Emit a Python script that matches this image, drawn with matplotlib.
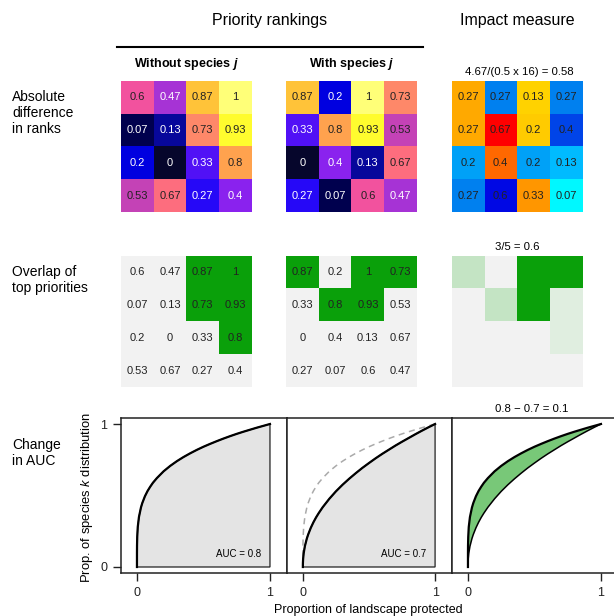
import numpy as np
import matplotlib
matplotlib.use("Agg")
import matplotlib.pyplot as plt
from matplotlib.colors import LinearSegmentedColormap, ListedColormap

plt.rcParams["font.family"] = ["Liberation Sans", "DejaVu Sans"]
plt.rcParams["mathtext.fontset"] = "custom"
plt.rcParams["mathtext.rm"] = "Liberation Sans"
plt.rcParams["mathtext.it"] = "Liberation Sans:italic"
plt.rcParams["mathtext.bf"] = "Liberation Sans:bold"
plt.rcParams["mathtext.bfit"] = "Liberation Sans:bold:italic"

# priority ranks (fraction of 15) in a 4x4 landscape
ranks_without = np.array([[0.6, 0.47, 0.87, 1],
                          [0.07, 0.13, 0.73, 0.93],
                          [0.2, 0, 0.33, 0.8],
                          [0.53, 0.67, 0.27, 0.4]])
ranks_with = np.array([[0.87, 0.2, 1, 0.73],
                       [0.33, 0.8, 0.93, 0.53],
                       [0, 0.4, 0.13, 0.67],
                       [0.27, 0.07, 0.6, 0.47]])
# signed rank change (with - without), labels show the absolute value
rank_change = np.array([[0.27, -0.27, 0.13, -0.27],
                        [0.27, 0.67, 0.2, -0.4],
                        [-0.2, 0.4, -0.2, -0.13],
                        [-0.27, -0.6, 0.33, 0.07]])
top_cut = 0.73  # top 5 of 16 cells

# performance curves
x_prop = [0, 0.0001, 0.0005, 0.002, 0.006, 0.015, 0.03, 0.04, 0.06, 0.08,
          0.1, 0.12, 0.15, 0.2, 0.25, 0.3, 0.35, 0.4, 0.45, 0.5, 0.55, 0.6,
          0.65, 0.7, 0.75, 0.8, 0.85, 0.9, 0.95, 1.0]
y_without = [0, 0.1, 0.15, 0.21, 0.28, 0.35, 0.416, 0.447, 0.495, 0.532,
             0.562, 0.589, 0.622, 0.669, 0.707, 0.74, 0.769, 0.795, 0.819,
             0.841, 0.861, 0.88, 0.898, 0.915, 0.931, 0.946, 0.96, 0.974,
             0.987, 1.0]
y_with = [0, 0.015, 0.03, 0.057, 0.095, 0.145, 0.199, 0.227, 0.274, 0.313,
          0.347, 0.377, 0.418, 0.477, 0.529, 0.575, 0.617, 0.656, 0.693,
          0.727, 0.76, 0.791, 0.82, 0.849, 0.876, 0.902, 0.928, 0.953,
          0.977, 1.0]
auc_without = 0.8
auc_with = 0.7

W, H = 614, 616
fig = plt.figure(figsize=(W / 100, H / 100), dpi=100)


def px_axes(x0, y0, x1, y1):
    return fig.add_axes([x0 / W, 1 - y1 / H, (x1 - x0) / W, (y1 - y0) / H])


def ftext(x, y, s, **kw):
    fig.text(x / W, 1 - y / H, s, **kw)


rank_cmap = LinearSegmentedColormap.from_list("rank", [
    "#06062c", "#00004e", "#0808a0", "#0000e0", "#2408f8", "#5412f6",
    "#8a22ee", "#a432d8", "#c644b4", "#f2529e", "#fd6c80", "#ff8a68",
    "#ffa24e", "#ffc03a", "#fffc2e", "#ffff78"])
change_cmap = LinearSegmentedColormap.from_list("change", [
    (0.0, "#0000c0"), (0.05, "#0008e4"), (0.2, "#0044e8"), (0.3, "#0082f0"),
    (0.35, "#00a2f8"), (0.4, "#00baff"), (0.57, "#00ffff"), (0.58, "#ffd400"),
    (0.65, "#ffcc00"), (0.7, "#ffaa00"), (0.75, "#ff9600"), (0.8, "#ff6800"),
    (1.0, "#ff0000")])
overlap_cmap = ListedColormap(["#f2f2f2", "#0aa00a"])
impact_cmap = ListedColormap(["#f2f2f2", "#e0eee0", "#c4e4c4", "#0aa00a"])

cols = [(121, 252), (286, 417), (451, 583)]
row1 = (81, 212)
row2 = (256, 387)


def label_cells(ax, vals, colors):
    for i in range(4):
        for j in range(4):
            ax.text(j, i, f"{vals[i, j]:g}", ha="center", va="center",
                    fontsize=8, color=colors[i][j])


# row 1: rank maps and absolute difference
for (x0, x1), r in zip(cols[:2], [ranks_without, ranks_with]):
    ax = px_axes(x0, row1[0], x1, row1[1])
    ax.imshow(r, cmap=rank_cmap, vmin=0, vmax=1, interpolation="nearest")
    ax.axis("off")
    tc = [["white" if v < 0.5 else "#222222" for v in row] for row in r]
    label_cells(ax, r, tc)

ax = px_axes(cols[2][0], row1[0], cols[2][1], row1[1])
ax.imshow(rank_change, cmap=change_cmap, vmin=-0.67, vmax=0.67,
          interpolation="nearest")
ax.axis("off")
label_cells(ax, np.abs(rank_change), [["#222222"] * 4] * 4)

# row 2: overlap of top priorities
for (x0, x1), r in zip(cols[:2], [ranks_without, ranks_with]):
    ax = px_axes(x0, row2[0], x1, row2[1])
    ax.imshow((r >= top_cut).astype(int), cmap=overlap_cmap, vmin=0, vmax=1,
              interpolation="nearest")
    ax.axis("off")
    label_cells(ax, r, [["#222222"] * 4] * 4)

top_wo = ranks_without >= top_cut
top_w = ranks_with >= top_cut
overlap_cls = np.where(top_wo & top_w, 3,
                       np.where(top_w, 2, np.where(top_wo, 1, 0)))
ax = px_axes(cols[2][0], row2[0], cols[2][1], row2[1])
ax.imshow(overlap_cls, cmap=impact_cmap, vmin=0, vmax=3,
          interpolation="nearest")
ax.axis("off")

# row 3: performance curves
bot = (418, 573)
panels = [(121, 287), (287, 452), (452, 618)]
axs = []
for x0, x1 in panels:
    ax = px_axes(x0, bot[0], x1, bot[1])
    ax.set_xlim(-0.12, 1.128)
    ax.set_ylim(-0.042, 1.042)
    for s in ax.spines.values():
        s.set_linewidth(1.1)
        s.set_color("#222222")
    ax.set_xticks([0, 1])
    ax.set_xticklabels(["0", "1"])
    ax.set_yticks([])
    ax.tick_params(direction="out", length=6, width=1, labelsize=9,
                   pad=4, colors="#222222")
    axs.append(ax)

axs[0].set_yticks([0, 1])
axs[0].set_yticklabels(["0", "1"])

poly_x = list(x_prop) + [1, 0]
axs[0].fill(poly_x, list(y_without) + [0, 0], facecolor="#e4e4e4",
            edgecolor="#222222", lw=0.9)
axs[0].plot(x_prop, y_without, color="black", lw=1.6)
axs[0].text(0.93, 0.09, f"AUC = {auc_without:g}", ha="right", va="center",
            fontsize=7)

axs[1].fill(poly_x, list(y_with) + [0, 0], facecolor="#e4e4e4",
            edgecolor="#222222", lw=0.9)
axs[1].plot(x_prop, y_without, color="#aaaaaa", lw=1.1, ls=(0, (4, 3)))
axs[1].plot(x_prop, y_with, color="black", lw=1.6)
axs[1].text(0.93, 0.09, f"AUC = {auc_with:g}", ha="right", va="center",
            fontsize=7)

axs[2].fill(list(x_prop) + list(x_prop[::-1]),
            list(y_without) + list(y_with[::-1]),
            facecolor="#78c878", edgecolor="none")
axs[2].plot(x_prop, y_without, color="black", lw=1.6)
axs[2].plot(x_prop, y_with, color="black", lw=1.1)

# titles and labels
ftext(270, 21, "Priority rankings", ha="center", va="center", fontsize=11.5)
ftext(517, 21, "Impact measure", ha="center", va="center", fontsize=11.5)
fig.add_artist(plt.Line2D([117 / W, 423 / W], [1 - 47 / H, 1 - 47 / H],
                          color="black", lw=1.5))
ftext(187, 64, "Without species $\\mathbfit{j}$", ha="center", va="center",
      fontsize=9, fontweight="bold")
ftext(352, 64, "With species $\\mathbfit{j}$", ha="center", va="center",
      fontsize=9, fontweight="bold")
ftext(519, 72, "4.67/(0.5 x 16) = 0.58", ha="center", va="center", fontsize=8.2)
ftext(517, 247, "3/5 = 0.6", ha="center", va="center", fontsize=8.2)
ftext(532, 409, "0.8 \u2212 0.7 = 0.1", ha="center", va="center", fontsize=8.2)

ftext(12, 113, "Absolute\ndifference\nin ranks", ha="left", va="center",
      fontsize=10, linespacing=1.15)
ftext(12, 280, "Overlap of\ntop priorities", ha="left", va="center",
      fontsize=10, linespacing=1.15)
ftext(12, 453, "Change\nin AUC", ha="left", va="center",
      fontsize=10, linespacing=1.2)

ftext(87, 498, "Prop. of species $k$ distribution", ha="center", va="center",
      rotation=90, fontsize=9.4)
ftext(368, 610, "Proportion of landscape protected", ha="center",
      va="center", fontsize=9)

fig.savefig("out.png", dpi=100)
